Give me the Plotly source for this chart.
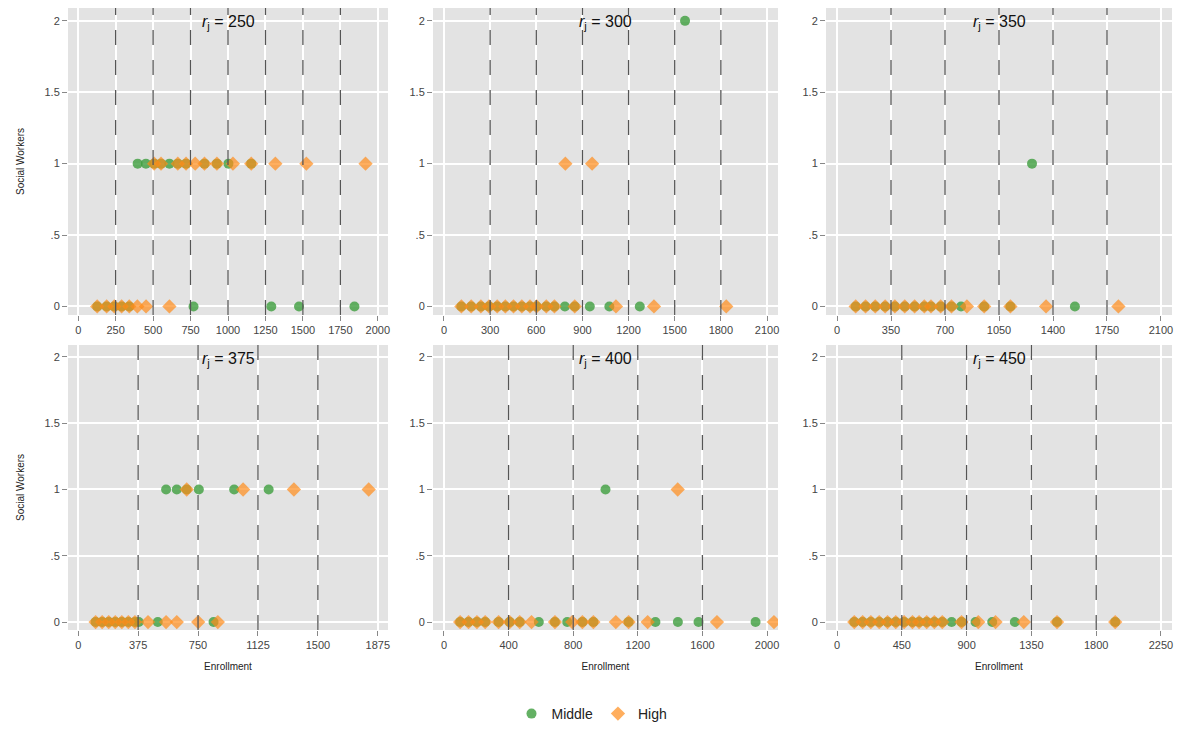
import plotly.graph_objects as go

cutoffs = [250, 300, 350, 375, 400, 450]
x_max = [2000, 2100, 2100, 1875, 2000, 2250]

middle_x = [
    [397, 452, 507, 553, 609, 665, 720, 843, 926, 1003, 1155,
     127, 190, 241, 290, 341, 770, 1289, 1474, 1844],
    [113, 177, 240, 293, 346, 399, 452, 506, 559, 602, 665, 718, 786, 850, 948, 1075, 1273, 1567],
    [121, 185, 248, 312, 375, 439, 503, 566, 609, 672, 742, 804, 954, 1124, 1542, 1264],
    [550, 617, 679, 755, 976, 1192,
     109, 150, 191, 232, 273, 314, 355, 379, 498, 847],
    [100, 152, 204, 255, 338, 407, 469, 587, 687, 763, 857, 925, 1143, 1309, 1448, 1576, 1929, 1000],
    [120, 178, 235, 293, 351, 408, 466, 524, 570, 623, 676, 731, 796, 865, 962, 1078, 1235, 1528, 1932],
]
middle_y = [
    [1] * 11 + [0] * 9,
    [0] * 17 + [2],
    [0] * 15 + [1],
    [1] * 6 + [0] * 10,
    [0] * 17 + [1],
    [0] * 19,
]
high_x = [
    [507, 553, 665, 720, 781, 843, 926, 1033, 1155, 1316, 1523, 1918,
     127, 190, 241, 290, 341, 395, 453, 609],
    [113, 177, 240, 293, 346, 399, 452, 506, 559, 602, 665, 718, 850, 1118, 1365, 1835, 789, 963],
    [121, 185, 248, 312, 375, 439, 503, 566, 609, 672, 742, 842, 954, 1124, 1355, 1824],
    [679, 1032, 1350, 1818,
     109, 150, 191, 232, 273, 314, 355, 437, 550, 617, 751, 874],
    [100, 152, 204, 255, 338, 407, 469, 542, 687, 794, 857, 925, 1064, 1143, 1261, 1690, 2043, 1447],
    [120, 178, 235, 293, 351, 408, 466, 524, 570, 623, 676, 731, 865, 981, 1101, 1297, 1528, 1932],
]
high_y = [
    [1] * 12 + [0] * 8,
    [0] * 16 + [1, 1],
    [0] * 16,
    [1] * 4 + [0] * 12,
    [0] * 17 + [1],
    [0] * 18,
]

OFF = 8  # page margin of the browser
W, H = 1184 - 2 * OFF, 738 - 2 * OFF
x_px = [(68, 388), (433, 778), (826, 1172)]
y_px = [(8, 315), (345, 630)]

fig = go.Figure()
shapes = []
annotations = []
layout = {}
for i in range(6):
    row, col = divmod(i, 3)
    n = "" if i == 0 else str(i + 1)
    xa, ya = "x" + n, "y" + n
    fig.add_trace(go.Scatter(
        x=middle_x[i], y=middle_y[i], mode="markers", name="Middle",
        marker=dict(color="#3d9e3d", size=10, symbol="circle", opacity=0.8),
        xaxis=xa, yaxis=ya, showlegend=(i == 0), legendgroup="m"))
    fig.add_trace(go.Scatter(
        x=high_x[i], y=high_y[i], mode="markers", name="High",
        marker=dict(color="#ff8c1a", size=11, symbol="diamond", opacity=0.7),
        xaxis=xa, yaxis=ya, showlegend=(i == 0), legendgroup="h"))
    c = cutoffs[i]
    span = x_max[i]
    pad = span * 0.034
    x0, x1 = x_px[col]
    yt, yb = y_px[row]
    layout["xaxis" + n] = dict(
        domain=[(x0 - OFF) / W, min(1, (x1 - OFF) / W)], anchor=ya, range=[-pad, span + pad],
        tickvals=[c * k for k in range(int(span / c) + 1)],
        ticks="outside", ticklen=5, tickcolor="#888", showline=False,
        gridcolor="white", gridwidth=1.5, zeroline=False,
        tickfont=dict(size=11, color="#444"),
        title=dict(text="Enrollment", font=dict(size=10, color="#222"), standoff=12) if row == 1 else None)
    layout["yaxis" + n] = dict(
        domain=[1 - (yb - OFF) / H, 1 - (yt - OFF) / H], anchor=xa, range=[-0.06, 2.09],
        tickvals=[0, 0.5, 1, 1.5, 2], ticktext=["0", ".5", "1", "1.5", "2"],
        ticks="outside", ticklen=5, tickcolor="#888",
        gridcolor="white", gridwidth=1.5, zeroline=False,
        tickfont=dict(size=11, color="#444"),
        title=dict(text="Social Workers", font=dict(size=10, color="#222"), standoff=18) if col == 0 else None)
    k = 1
    while c * k < span:
        shapes.append(dict(type="line", xref=xa, yref=ya + " domain", x0=c * k, x1=c * k, y0=0, y1=1,
                           line=dict(color="#555", width=1.3, dash="longdash")))
        k += 1
    annotations.append(dict(text="<i>r</i><sub>j</sub> = %d" % c, xref=xa + " domain", yref=ya + " domain",
                            x=0.5, y=0.99, xanchor="center", yanchor="top", showarrow=False,
                            font=dict(size=16, color="#111")))

fig.update_layout(
    width=W, height=H, margin=dict(l=0, r=0, t=0, b=0, autoexpand=False),
    paper_bgcolor="white", plot_bgcolor="#e3e3e3",
    font=dict(family="Liberation Sans, Arial"),
    shapes=shapes, annotations=annotations,
    legend=dict(orientation="h", x=0.5, xanchor="center", y=0.0, yanchor="bottom",
                font=dict(size=14, color="#222")),
    **layout)
fig.write_html("out.html")
